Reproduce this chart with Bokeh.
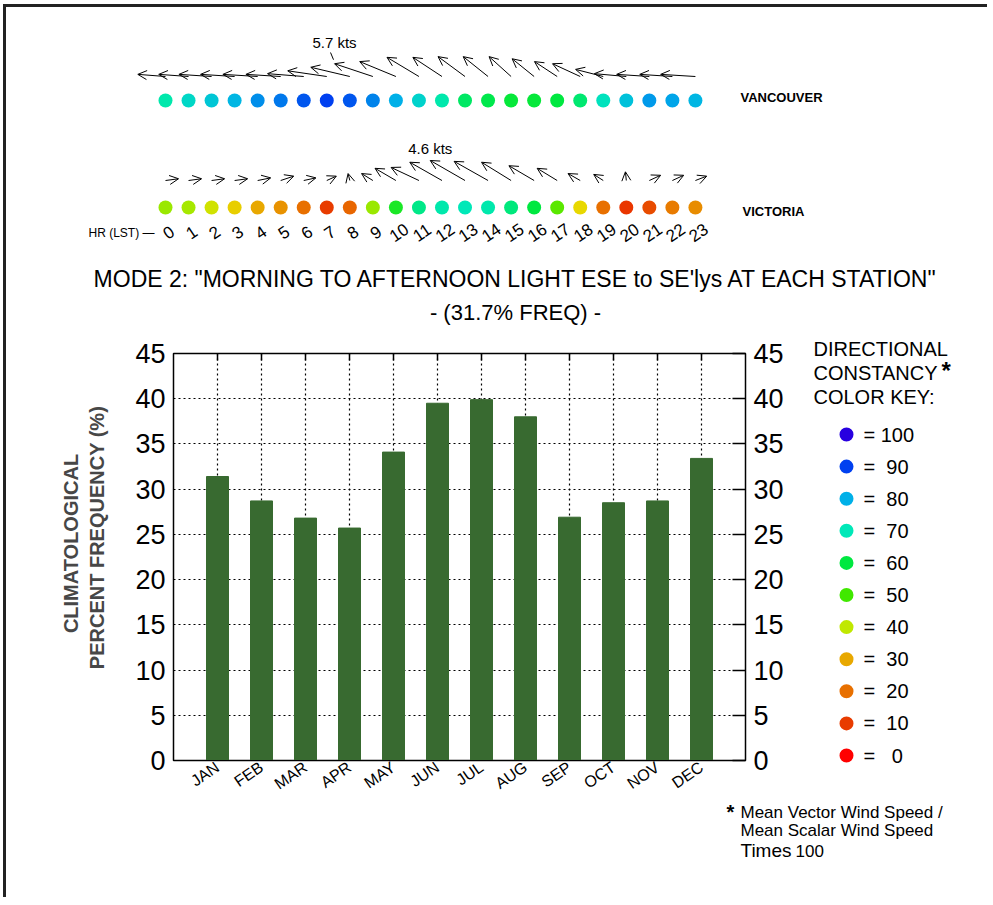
import math
from bokeh.plotting import figure
from bokeh.models import (Range1d, ColumnDataSource, Arrow, OpenHead, LinearAxis,
                          FixedTicker, Column, Row)
from bokeh.core.properties import value
from bokeh.embed import file_html
from bokeh.resources import INLINE

# ---------------- data ----------------
hours = list(range(24))

# mean vector wind components (kts): u = east, v = north
van_u = [-3.9, -4.2, -4.6, -4.8, -4.9, -4.9, -5.1, -5.5, -5.5, -5.4, -5.1, -4.5,
         -4.1, -3.8, -3.5, -3.1, -3.1, -3.2, -3.9, -3.9, -4.5, -4.6, -4.6, -4.9]
van_v = [0.3, 0.3, 0.3, 0.3, 0.3, 0.3, 0.4, 0.8, 1.3, 1.8, 2.1, 2.7,
         2.7, 2.8, 2.8, 2.8, 2.5, 2.1, 1.8, 1.0, 0.4, 0.3, 0.3, 0.3]
van_const = [69, 73, 76, 79, 83, 85, 88, 90, 88, 84, 80, 74,
             69, 63, 61, 59, 59, 60, 64, 71, 77, 82, 81, 79]

vic_u = [1.5, 1.5, 1.5, 1.5, 1.5, 1.5, 1.4, 1.1, -0.2, -1.3, -2.4, -3.2,
         -3.7, -4.0, -3.9, -3.4, -2.9, -2.3, -1.4, -1.1, -0.1, 1.3, 1.3, 1.3]
vic_v = [0.2, 0.2, 0.2, 0.2, 0.3, 0.5, 0.3, 0.5, 0.8, 0.8, 1.4, 1.5,
         2.1, 2.3, 2.2, 2.1, 1.7, 1.4, 0.8, 0.7, 1.0, 0.6, 0.6, 0.5]
vic_const = [43, 42, 38, 34, 30, 26, 20, 10, 18, 43, 56, 66,
             69, 70, 69, 65, 60, 48, 35, 20, 9, 13, 22, 25]

months = ["JAN", "FEB", "MAR", "APR", "MAY", "JUN", "JUL", "AUG", "SEP", "OCT", "NOV", "DEC"]
freq = [31.4, 28.7, 26.8, 25.7, 34.1, 39.5, 39.9, 38.0, 26.9, 28.5, 28.7, 33.4]

key_values = [100, 90, 80, 70, 60, 50, 40, 30, 20, 10, 0]
pct_ticks = [0, 5, 10, 15, 20, 25, 30, 35, 40, 45]

# ---------------- style ----------------
FONT = value("Liberation Sans")
BAR_COLOR = "#386a30"
stops = [(0, "#ff0000"), (10, "#e83c00"), (20, "#e87000"), (30, "#e8a800"),
         (35, "#e8d800"), (40, "#c0e800"), (50, "#40e800"), (60, "#00e840"),
         (70, "#00e8b8"), (80, "#00b0e8"), (90, "#0040f0"), (100, "#2800e0")]


def const_color(c):
    def rgb(h):
        return [int(h[i:i + 2], 16) for i in (1, 3, 5)]
    for (v0, c0), (v1, c1) in zip(stops[:-1], stops[1:]):
        if v0 <= c <= v1:
            t = (c - v0) / (v1 - v0)
            a, b = rgb(c0), rgb(c1)
            return "#%02x%02x%02x" % tuple(int(round(a[i] + t * (b[i] - a[i]))) for i in range(3))
    return stops[-1][1]


# page layout (pixels; body margin is 0 in Bokeh's page template)
OX, OY = 6, 7          # content origin after the 3px frame lines
RIGHT = 987
Y_TOP_END = 338        # bottom of the hourly panel
Y_MID_END = 802        # bottom of the bar chart row
Y_END = 897
X_YT_END = 110         # end of y-title strip
X_BAR_END = 802        # end of bar chart figure
FL, FR, FT, FB = 173, 745, 353, 762   # bar chart frame
HOUR_X0, HOUR_DX = 165.0, 23.04


def hx(px):
    return (px - HOUR_X0) / HOUR_DX


def blank(width, height, xr, yr):
    f = figure(width=width, height=height, x_range=xr, y_range=yr, min_border=0,
               x_axis_type=None, y_axis_type=None, toolbar_location=None,
               output_backend="svg", outline_line_color=None, frame_align=False)
    f.grid.visible = False
    return f


def put_text(f, x, y, txt, size, align="left", bold=False, color="black", angle=0.0):
    f.text(x=[x], y=[y], text=[txt], text_align=align, text_baseline="middle",
           text_font=FONT, text_font_size=size, text_color=color, angle=angle,
           text_font_style="bold" if bold else "normal")


# ---------------- top panel: hourly vectors & constancy ----------------
top = blank(RIGHT - OX, Y_TOP_END - OY, Range1d(hx(OX), hx(RIGHT)), Range1d(Y_TOP_END, OY))

stations = [
    # name, dots y, arrow base y, px per kt, speed label y, name x, name y, u, v, constancy, leader
    ("VANCOUVER", 100, 76, 7.1, 42, 740, 97, van_u, van_v, van_const, True),
    ("VICTORIA", 207, 180, 8.7, 148, 742, 211, vic_u, vic_v, vic_const, False),
]

for name, dot_y, base_y, k, lab_y, name_x, name_y, u, v, cst, leader in stations:
    x1 = [h + uu * k / HOUR_DX for h, uu in zip(hours, u)]
    y1 = [base_y - vv * k for vv in v]
    src = ColumnDataSource(dict(x0=hours, y0=[base_y] * len(hours), x1=x1, y1=y1))
    top.add_layout(Arrow(end=OpenHead(size=9, line_width=1, line_color="black"),
                         x_start="x0", y_start="y0", x_end="x1", y_end="y1",
                         source=src, line_width=1, line_color="black"))
    top.scatter(x=hours, y=[dot_y] * len(hours), size=14,
                fill_color=[const_color(c) for c in cst], line_color=None)
    speeds = [math.hypot(a, b) for a, b in zip(u, v)]
    i = speeds.index(max(speeds))
    put_text(top, x1[i], lab_y, "%.1f kts" % speeds[i], "15px", align="center")
    if leader:
        top.segment(x0=[x1[i] - 4 / HOUR_DX], y0=[lab_y + 10], x1=[x1[i] - 1 / HOUR_DX],
                    y1=[y1[i] - 4], line_color="black", line_width=1)
    put_text(top, hx(name_x), name_y, name, "13px", bold=True)

top.text(x=hours, y=[232] * len(hours), text=[str(h) for h in hours], angle=0.6,
         x_offset=3, text_align="center", text_baseline="middle", text_font=FONT,
         text_font_size="17px", text_color="black")
put_text(top, hx(88), 232, "HR (LST)  \u2014", "12px")
put_text(top, hx(516), 278,
         'MODE 2: "MORNING TO AFTERNOON LIGHT ESE to SE\'lys AT EACH STATION"',
         "23px", align="center")
put_text(top, hx(515), 312, "- (31.7% FREQ) -", "22px", align="center")

# ---------------- y-axis title strip ----------------
ytit = blank(X_YT_END - OX, Y_MID_END - Y_TOP_END, Range1d(OX, X_YT_END),
             Range1d(Y_MID_END, Y_TOP_END))
put_text(ytit, 70, 543, "CLIMATOLOGICAL", "20px", align="center", bold=True,
         color="#474747", angle=math.pi / 2)
put_text(ytit, 96, 537, "PERCENT FREQUENCY (%)", "20px", align="center", bold=True,
         color="#474747", angle=math.pi / 2)

# ---------------- bar chart ----------------
xs = list(range(1, len(months) + 1))
XMAX = len(months) + 1
PX_PER_PCT = (FB - FT) / 45.0

bar = figure(width=X_BAR_END - X_YT_END, height=Y_MID_END - Y_TOP_END,
             x_range=Range1d(0, XMAX), y_range=Range1d(0, 45),
             min_border_left=FL - X_YT_END, min_border_right=X_BAR_END - FR,
             min_border_top=FT - Y_TOP_END, min_border_bottom=Y_MID_END - FB,
             toolbar_location=None, output_backend="svg", frame_align=False,
             outline_line_color="black", outline_line_width=1.5)

bar.vbar(x=xs, top=freq, width=0.5, fill_color=BAR_COLOR, line_color=BAR_COLOR)
# inward tick marks along the top edge at each month
bar.segment(x0=xs, y0=[45] * len(xs), x1=xs, y1=[45 - 7 / PX_PER_PCT] * len(xs),
            line_color="black", line_width=1.5)

bar.xgrid.ticker = FixedTicker(ticks=xs)
bar.ygrid.ticker = FixedTicker(ticks=pct_ticks)
for g in (bar.xgrid, bar.ygrid):
    g.grid_line_color = "black"
    g.grid_line_dash = "2 3"
    g.grid_line_width = 1.2

ya = bar.yaxis[0]
ya.ticker = FixedTicker(ticks=pct_ticks)
ya.major_tick_in = 0
ya.major_tick_out = 0
ya.minor_tick_line_color = None
ya.axis_line_color = "black"
ya.major_label_standoff = 8
ya.major_label_text_font = "Liberation Sans"
ya.major_label_text_font_size = "27px"
ya.major_label_text_color = "black"

xa = bar.xaxis[0]
xa.ticker = FixedTicker(ticks=xs)
xa.major_label_overrides = {x: m for x, m in zip(xs, months)}
xa.major_label_orientation = 0.6
xa.major_tick_in = 0
xa.major_tick_out = 0
xa.minor_tick_line_color = None
xa.axis_line_color = "black"
xa.major_label_standoff = 5
xa.major_label_text_font = "Liberation Sans"
xa.major_label_text_font_size = "16px"
xa.major_label_text_color = "black"

ra = LinearAxis(ticker=FixedTicker(ticks=pct_ticks), major_tick_in=13, major_tick_out=0,
                minor_tick_line_color=None, axis_line_color="black",
                major_tick_line_color="black", major_tick_line_width=1.5,
                major_label_standoff=8, major_label_text_font="Liberation Sans",
                major_label_text_font_size="27px", major_label_text_color="black")
bar.add_layout(ra, "right")

# ---------------- colour key ----------------
key = blank(RIGHT - X_BAR_END, Y_MID_END - Y_TOP_END, Range1d(X_BAR_END, RIGHT),
            Range1d(Y_MID_END, Y_TOP_END))
put_text(key, 813, 348, "DIRECTIONAL", "20px")
put_text(key, 813, 372, "CONSTANCY", "20px")
put_text(key, 941, 370, "*", "24px", bold=True)
put_text(key, 813, 396, "COLOR KEY:", "20px")
KEY_Y0, KEY_DY = 434, 32.1
key_y = [KEY_Y0 + KEY_DY * i for i in range(len(key_values))]
key.scatter(x=[846] * len(key_values), y=key_y, size=14,
            fill_color=[const_color(kv) for kv in key_values], line_color=None)
key.text(x=[863] * len(key_values), y=key_y,
         text=["=" + "\u00a0" * (4 - len(str(kv))) + str(kv) for kv in key_values],
         text_align="left", text_baseline="middle", text_font=FONT,
         text_font_size="20px", text_color="black")

# ---------------- footnote ----------------
foot = blank(RIGHT - OX, Y_END - Y_MID_END, Range1d(OX, RIGHT), Range1d(Y_END, Y_MID_END))
put_text(foot, 726, 811, "*", "20px", bold=True)
put_text(foot, 740, 812, "Mean Vector Wind Speed /", "17px")
put_text(foot, 740, 830, "Mean Scalar Wind Speed", "17px")
put_text(foot, 740, 850, "Times", "19px")
put_text(foot, 795, 850, "100", "17px")

layout = Column(children=[top, Row(children=[ytit, bar, key]), foot],
                styles={"margin-left": "3px", "margin-top": "4px",
                        "border-top": "3px solid #222222",
                        "border-left": "3px solid #222222"})

open("out.html", "w").write(file_html(layout, INLINE))
